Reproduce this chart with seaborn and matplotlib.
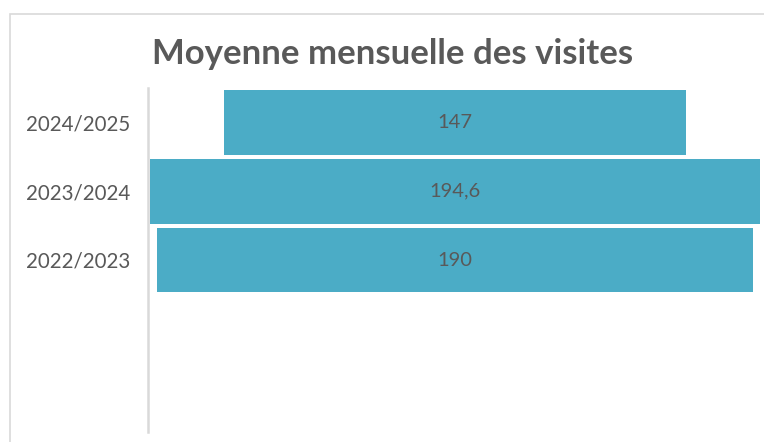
import matplotlib
matplotlib.use("Agg")
import matplotlib.pyplot as plt
import seaborn as sns
import pandas as pd
from matplotlib.patches import Rectangle

# Data
seasons = ["2024/2025", "2023/2024", "2022/2023"]
visits = [147, 194.6, 190]
value_labels = ["147", "194,6", "190"]
title = "Moyenne mensuelle des visites"

df = pd.DataFrame({"saison": seasons, "visites": visits})

sns.set_theme(style="white")
plt.rcParams["font.family"] = ["Lato", "DejaVu Sans"]

W, H = 764, 442
fig = plt.figure(figsize=(W / 100, H / 100), dpi=100)
fig.patch.set_facecolor("white")

# plot area in pixel coords: x 148..762, y 88..432
ax = fig.add_axes([148 / W, (H - 432) / H, (762 - 148) / W, (432 - 88) / H])

sns.barplot(data=df, x="visites", y="saison", orient="h", color="#4BACC6",
            saturation=1, width=0.94, linewidth=0, ax=ax)

# funnel: center every bar on zero
for p in ax.patches:
    p.set_x(-p.get_width() / 2)
    p.set_edgecolor("none")

for p, lab in zip(ax.patches, value_labels):
    ax.text(0, p.get_y() + p.get_height() / 2, lab, ha="center", va="center",
            fontsize=14.5, color="#595959")

half = max(visits) / 2 * 1.005
ax.set_xlim(-half, half)
ax.set_ylim(4.5, -0.5)

ax.set_xlabel("")
ax.set_ylabel("")
ax.set_xticks([])
ax.tick_params(axis="y", length=0, pad=13, labelsize=14.8, labelcolor="#595959")
for s in ["top", "right", "bottom"]:
    ax.spines[s].set_visible(False)
ax.spines["left"].set_color("#D9D9D9")
ax.spines["left"].set_linewidth(1.8)

fig.text(393 / W, 1 - 64 / H, title, ha="center", va="baseline",
         fontsize=25, fontweight="bold", color="#595959")

# chart frame (runs off the right and bottom edges)
fig.patches.append(Rectangle((10 / W, -0.1), 1.2, 1 - 14 / H + 0.1,
                             transform=fig.transFigure, fill=False,
                             edgecolor="#D9D9D9", linewidth=1.2))

fig.savefig("out.png", dpi=100)
